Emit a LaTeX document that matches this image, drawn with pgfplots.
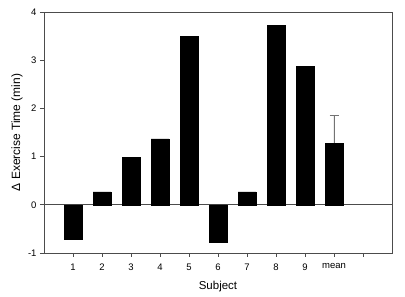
\documentclass[border=0pt]{standalone}
\usepackage{pgfplots}
\pgfplotsset{compat=1.18}
\usepackage{fontspec}
\setmainfont{Liberation Sans}
\begin{document}
\begin{tikzpicture}
\begin{axis}[
  name=ax,
  scale only axis,
  width=348pt, height=241pt,
  xmin=0, xmax=12, ymin=-1, ymax=4,
  ytick={-1,0,1,2,3,4},
  xtick={1,2,3,4,5,6,7,8,9,10,11},
  xticklabels={1,2,3,4,5,6,7,8,9,mean,},
  tick align=outside,
  major tick length=4pt,
  xtick pos=bottom, ytick pos=left,
  axis line style={black!70, line width=0.6pt},
  every tick/.style={black!70, line width=0.6pt},
  tick label style={font=\fontsize{9.5}{10}\selectfont},
  /pgf/number format/assume math mode=true,
  xticklabel style={yshift=-3pt},
  ybar, bar width=0.62, bar shift=0,
  clip=false,
]
\draw[black!70, line width=0.6pt] (axis cs:0,0) -- (axis cs:12,0);
\addplot[fill=black, draw=black] table[x=x, y=y] {
x y
1 -0.72
2 0.27
3 0.98
4 1.37
5 3.50
6 -0.77
7 0.27
8 3.72
9 2.87
};
\addplot[fill=black, draw=black,
  error bars/.cd, y dir=plus, y explicit,
  error bar style={black!55, line width=0.7pt},
  error mark options={black!55, line width=0.7pt, mark size=4.5pt, rotate=90}]
  table[x=x, y=y, y error=e] {
x y e
10 1.28 0.57
};
\end{axis}
\node[rotate=90, font=\fontsize{12}{13}\selectfont] at ([xshift=-27pt]ax.west) {Δ Exercise Time (min)};
\node[font=\fontsize{11.5}{12}\selectfont] at ([yshift=-34pt]ax.south) {Subject};
\pgfresetboundingbox
\path ([shift={(-44pt,-44pt)}]ax.south west) rectangle ([shift={(13pt,12pt)}]ax.north east);
\end{tikzpicture}
\end{document}
